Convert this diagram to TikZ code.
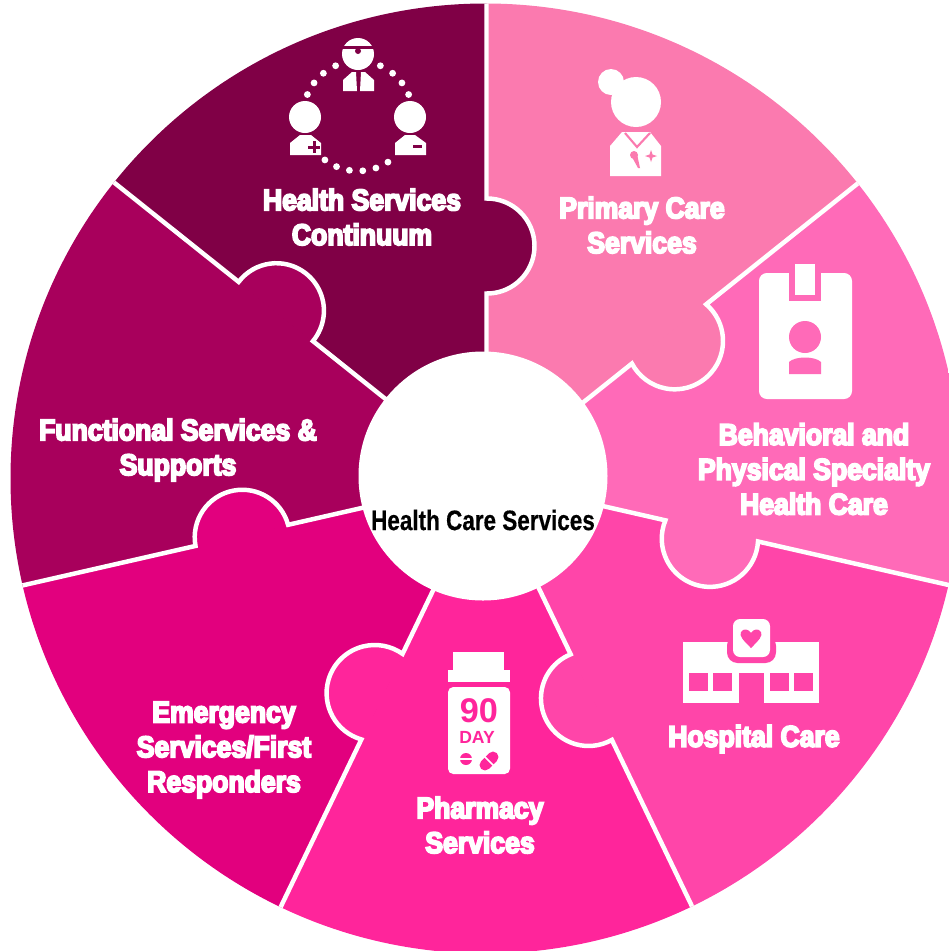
\documentclass[tikz,border=0pt]{standalone}
\usepackage{fontspec}
\setmainfont{Liberation Sans}
\newfontfamily\labelfont[FakeBold=6,FakeStretch=0.89]{Liberation Sans Bold}
\newfontfamily\hubfont[FakeBold=0.4,FakeStretch=0.8]{Liberation Sans Bold}
\definecolor{continuum}{RGB}{128,0,70}
\definecolor{functional}{RGB}{168,0,92}
\definecolor{emergency}{RGB}{226,0,126}
\definecolor{pharmacy}{RGB}{255,37,155}
\definecolor{hospital}{RGB}{255,69,169}
\definecolor{behavioral}{RGB}{255,106,184}
\definecolor{primary}{RGB}{251,122,175}
\tikzset{
  service/.style={text=white, align=center, font=\labelfont\fontsize{17}{19.8}\selectfont, inner sep=0pt},
  icon/.style={fill=white, draw=none}
}

\begin{document}
\begin{tikzpicture}[x=0.02cm, y=-0.02cm]
      \useasboundingbox (0, 0) rectangle (949, 951);
      \clip (0, 0) rectangle (949, 951);
      \clip (485.5, 478.5) circle[radius=475];
      \coordinate (hub) at (486.5, 479.5);

      \foreach \a/\c in {-90/primary, -38.57/behavioral, 12.86/hospital, 64.29/pharmacy, 115.71/emergency, 167.14/functional, 218.57/continuum} {
          \fill[\c] (hub) -- ++(\a:500) arc[start angle=\a, delta angle=51.43, radius=500] -- cycle;
      }
      \foreach \a/\c/\d/\k in {-90/continuum/233.5/0.5, -38.57/primary/233.5/9, 12.86/behavioral/231/8, 64.29/hospital/241.5/3, 115.71/pharmacy/241/8, 167.14/emergency/251/-2, 218.57/functional/269.5/1} {
          \begin{scope}[shift={(hub)}, rotate=-\a]
              \pgfmathsetmacro{\r}{sqrt(47.5*47.5+\k*\k)}
              \pgfmathsetmacro{\s}{atan2(-\k, 47.5)}
              \filldraw[\c, line width=1pt] (\d+47.5, 0) arc[start angle=\s, end angle=180-\s, radius=\r] -- cycle;
              \draw[white, line width=4.5*0.5669pt] (500, 0) -- (\d+47.5, 0) arc[start angle=\s, end angle=180-\s, radius=\r] -- (100, 0);
          \end{scope}
      }
      \node[circle, fill=white, minimum size=250*0.5669pt, inner sep=0pt] (centre) at (483, 476) {};
      \node[font=\hubfont\fontsize{16}{20}\selectfont, inner sep=0pt] (hubtext) at (483, 520) {Health Care Services};

      \node[service] (continuumtext) at (362, 217) {Health Services\\Continuum};
      \node[service] (primarytext) at (642, 225) {Primary Care\\Services};
      \node[service] (behavioraltext) at (814, 469) {Behavioral and\\Physical Specialty\\Health Care};
      \node[service] (hospitaltext) at (754, 739) {Hospital Care};
      \node[service] (pharmacytext) at (480, 825) {Pharmacy\\Services};
      \node[service] (emergencytext) at (224, 750) {Emergency\\Services/First\\Responders};
      \node[service] (functionaltext) at (178, 450) {Functional Services \&\\Supports};

      \fill[icon] (358, 54) circle[radius=16];
      \fill[continuum] (342, 46) rectangle (374, 49);
      \fill[continuum] (358, 51) circle[radius=3];
      \fill[icon] (343, 91) -- (343, 80) -- (352, 72) -- (356, 72) -- (357, 91) -- cycle;
      \fill[icon] (374, 91) -- (374, 80) -- (365, 72) -- (361, 72) -- (360, 91) -- cycle;
      \foreach \a in {57, 71, 85, 99, 113, 127, -23, -37, -51, -66, -114, -129, -143, -157} {
          \fill[icon] (358, 116) ++(\a:55) circle[radius=3.4];
      }
      \fill[icon] (305, 117) circle[radius=16];
      \fill[icon] (290, 155) -- (290, 143) -- (300, 135) -- (311, 135) -- (321, 143) -- (321, 155) -- cycle;
      \fill[continuum] (308, 145.5) rectangle (320, 148.5);
      \fill[continuum] (312.5, 141) rectangle (315.5, 153);
      \fill[icon] (410, 117) circle[radius=16];
      \fill[icon] (395, 155) -- (395, 143) -- (405, 135) -- (415, 135) -- (426, 143) -- (426, 155) -- cycle;
      \fill[continuum] (413, 144.5) rectangle (422, 148);

      \fill[icon] (636, 102) circle[radius=25];
      \fill[icon] (611, 82) circle[radius=13];
      \fill[icon] (610, 176) -- (610, 146) -- (622, 132) -- (650, 132) -- (661, 146) -- (661, 176) -- cycle;
      \draw[primary, line width=1.2pt] (625, 133) -- (637, 147) -- (650, 133);
      \fill[primary] (634, 155) circle[radius=4];
      \fill[primary] (637, 154) -- (640, 168) -- (638, 168) -- (632, 157) -- cycle;
      \fill[primary] (651, 150) -- (652.5, 154.5) -- (657, 156) -- (652.5, 157.5) -- (651, 162) -- (649.5, 157.5) -- (645, 156) -- (649.5, 154.5) -- cycle;

      \fill[icon, rounded corners=4.5pt] (759, 273) rectangle (852, 399);
      \fill[behavioral] (789, 268) rectangle (821, 301);
      \fill[icon] (795, 264) rectangle (815, 295);
      \fill[behavioral] (805, 337) circle[radius=16];
      \fill[behavioral] (789, 374) -- (789, 362) .. controls (795, 356) and (815, 356) .. (821, 362) -- (821, 374) -- cycle;

      \fill[icon] (683, 642) rectangle (739, 703);
      \fill[icon] (764, 642) rectangle (819, 703);
      \fill[icon] (739, 642) rectangle (764, 673);
      \fill[hospital, rounded corners=6pt] (727, 635) rectangle (776, 663);
      \fill[icon, rounded corners=4pt] (733, 619) rectangle (770, 657);
      \fill[hospital] (751, 648) .. controls (743, 640) and (739, 636) .. (741, 632) .. controls (743, 628) and (749, 629) .. (751, 633) .. controls (753, 629) and (759, 628) .. (761, 632) .. controls (763, 636) and (759, 640) .. (751, 648) -- cycle;
      \foreach \x in {689, 713, 770, 794} {
          \fill[hospital] (\x, 673) rectangle (\x+19, 691);
      }

      \fill[icon] (453, 652) rectangle (504, 670);
      \fill[icon] (448, 670) rectangle (510, 682);
      \fill[icon, rounded corners=3pt] (448, 687) rectangle (510, 774);
      \node[text=pharmacy, font=\fontsize{19.5}{20}\selectfont\bfseries, inner sep=0pt] (ninety) at (479, 711) {90};
      \node[text=pharmacy, font=\fontsize{10}{11}\selectfont\bfseries, inner sep=0pt] (day) at (477, 737) {DAY};
      \fill[pharmacy] (466, 759) circle[radius=6];
      \fill[icon] (459, 758) rectangle (473, 760);
      \draw[pharmacy, line width=11*0.5669pt, line cap=round] (485, 765) -- (493, 757);
      \draw[icon, draw=white, line width=1pt] (484, 756) -- (494, 766);
\end{tikzpicture}
\end{document}
